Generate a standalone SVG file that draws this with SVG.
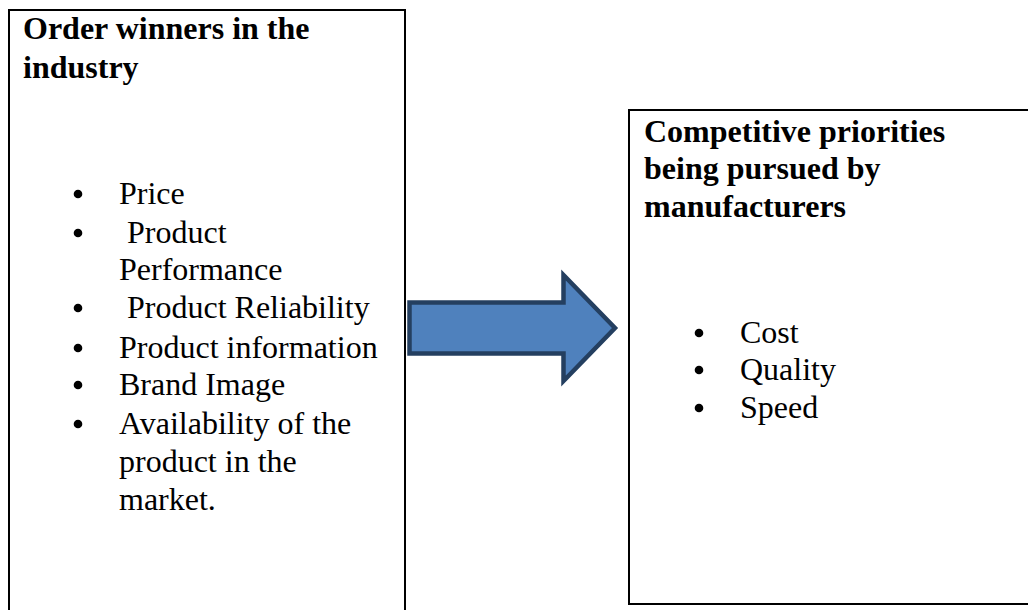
<svg xmlns="http://www.w3.org/2000/svg" width="1028" height="610" viewBox="0 0 1028 610">
<style>
.box{fill:#fff;stroke:#000;stroke-width:2}
.t{font-family:"Liberation Serif","Times New Roman",serif;font-size:32px;fill:#000}
.b{font-weight:bold}
.dot{fill:#000}
.arrow{fill:#4F81BD;stroke:#243F60;stroke-width:4.5;stroke-linejoin:miter}
</style>
<defs><circle id="bullet" class="dot" cx="0" cy="0" r="4.3"/></defs>
<rect width="1028" height="610" fill="#fff"/>
<g id="order-winners">
<rect class="box" x="9" y="10" width="396" height="620"/>
<text class="t b" x="23" y="39">Order winners in the</text>
<text class="t b" x="23" y="78">industry</text>
<use href="#bullet" x="78" y="194"/><text class="t" x="119" y="204">Price</text>
<use href="#bullet" x="78" y="233"/><text class="t" x="119" y="243" xml:space="preserve"> Product</text>
<text class="t" x="119" y="280">Performance</text>
<use href="#bullet" x="78" y="308"/><text class="t" x="119" y="318" xml:space="preserve"> Product Reliability</text>
<use href="#bullet" x="78" y="348"/><text class="t" x="119" y="358">Product information</text>
<use href="#bullet" x="78" y="385"/><text class="t" x="119" y="395">Brand Image</text>
<use href="#bullet" x="78" y="424"/><text class="t" x="119" y="434">Availability of the</text>
<text class="t" x="119" y="472">product in the</text>
<text class="t" x="119" y="510">market.</text>
</g>
<g id="connectors">
<path class="arrow" d="M409.5,302.5 L563.5,302.5 L563.5,275 L615,328 L563.5,381 L563.5,353.5 L409.5,353.5 Z"/>
</g>
<g id="competitive-priorities">
<rect class="box" x="629" y="110" width="420" height="494"/>
<text class="t b" x="644" y="142">Competitive priorities</text>
<text class="t b" x="644" y="179">being pursued by</text>
<text class="t b" x="644" y="217">manufacturers</text>
<use href="#bullet" x="699" y="333"/><text class="t" x="740" y="343">Cost</text>
<use href="#bullet" x="699" y="370"/><text class="t" x="740" y="380">Quality</text>
<use href="#bullet" x="699" y="408"/><text class="t" x="740" y="418">Speed</text>
</g>
</svg>
